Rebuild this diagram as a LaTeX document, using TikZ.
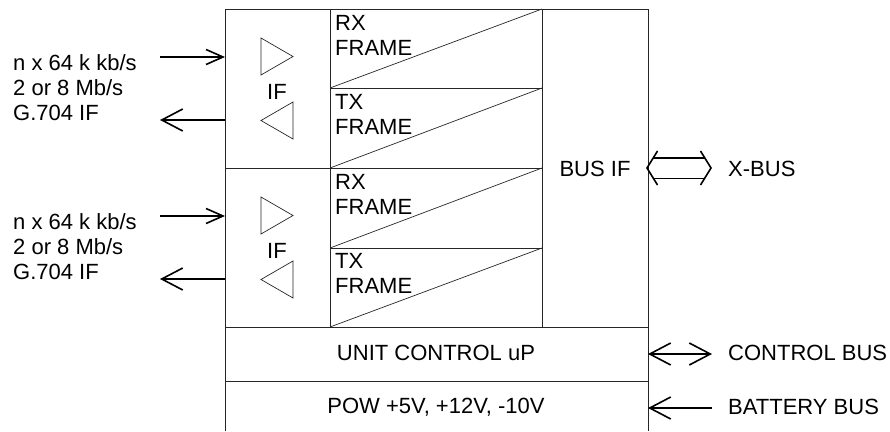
\documentclass[tikz,border=0pt]{standalone}
\usepackage{fontspec}
\setmainfont{Liberation Sans}
\usetikzlibrary{arrows.meta}
\begin{document}
\begin{tikzpicture}[x=1pt,y=-1pt,
  box/.style={draw=black!85, line width=0.9pt},
  tri/.style={draw=black!85, line width=0.7pt},
  lbl/.style={font=\fontsize{22}{25}\selectfont, inner sep=0pt},
  sigin/.style={line width=1.6pt, -{Straight Barb[length=17pt,width=15pt,line width=1.6pt]}},
  sigout/.style={line width=1.6pt, -{Straight Barb[length=21pt,width=22pt,line width=1.6pt]}},
  sigboth/.style={line width=1.6pt, {Straight Barb[length=21pt,width=22pt,line width=1.6pt]}-{Straight Barb[length=21pt,width=22pt,line width=1.6pt]}},
  rail/.style={line width=1.6pt}
]
\useasboundingbox (0,0) rectangle (890,431);

% frame
\draw[box] (225,431) -- (225,9) -- (648,9) -- (648,431);
\draw[box] (225,168) -- (542,168);
\draw[box] (225,327) -- (648,327);
\draw[box] (225,381) -- (648,381);
\draw[box] (330,9) -- (330,327);
\draw[box] (542,9) -- (542,327);
\draw[box] (330,88) -- (542,88);
\draw[box] (330,248) -- (542,248);
% diagonals
\draw[tri] (330,88) -- (542,9);
\draw[tri] (330,168) -- (542,88);
\draw[tri] (330,248) -- (542,168);
\draw[tri] (330,327) -- (542,248);

% amplifier triangles
\foreach \dy in {0,159}{
  \draw[tri] (261,38+\dy) -- (293,56.5+\dy) -- (261,75+\dy) -- cycle;
  \draw[tri] (293,102+\dy) -- (261,120.5+\dy) -- (293,139+\dy) -- cycle;
}

% texts (multi-line nodes: base = last line)
\node[lbl, anchor=base west, align=left] (l1) at (13,120) {n x 64 k kb/s\\2 or 8 Mb/s\\G.704 IF};
\node[lbl, anchor=base west, align=left] (l2) at (13,279) {n x 64 k kb/s\\2 or 8 Mb/s\\G.704 IF};
\node[lbl, anchor=base] (if1) at (277,99) {IF};
\node[lbl, anchor=base] (if2) at (277,258) {IF};
\node[lbl, anchor=base west, align=left] (rx1) at (335,55) {RX\\FRAME};
\node[lbl, anchor=base west, align=left] (tx1) at (335,134) {TX\\FRAME};
\node[lbl, anchor=base west, align=left] (rx2) at (335,214) {RX\\FRAME};
\node[lbl, anchor=base west, align=left] (tx2) at (335,293) {TX\\FRAME};
\node[lbl, anchor=base] (busif) at (595,176) {BUS IF};
\node[lbl, anchor=base west] (xbus) at (728,176) {X-BUS};
\node[lbl, anchor=base] (ucp) at (436,360) {UNIT CONTROL uP};
\node[lbl, anchor=base] (pow) at (436,413) {POW +5V, +12V, -10V};
\node[lbl, anchor=base west] (cbus) at (728,360) {CONTROL BUS};
\node[lbl, anchor=base west] (bbus) at (728,414) {BATTERY BUS};

% connector end points
\coordinate (in1s) at (160,57);   \coordinate (in1e) at (225,57);
\coordinate (out1s) at (225,120); \coordinate (out1e) at (160,120);
\coordinate (in2s) at (160,216);  \coordinate (in2e) at (225,216);
\coordinate (out2s) at (225,279); \coordinate (out2e) at (160,279);
\coordinate (cb1) at (648,354);   \coordinate (cb2) at (712,354);
\coordinate (bb1) at (712,408);   \coordinate (bb2) at (648,408);

\draw[sigin] (in1s) -- (in1e);
\draw[sigout] (out1s) -- (out1e);
\draw[sigin] (in2s) -- (in2e);
\draw[sigout] (out2s) -- (out2e);
\draw[sigboth] (cb1) -- (cb2);
\draw[sigout] (bb1) -- (bb2);

% X-BUS double (hollow) arrow
\coordinate (xl) at (647,168);
\coordinate (xr) at (711,168);
\draw[rail] (653,158) -- (705,158);
\draw[rail] (653,178.5) -- (705,178.5);
\draw[rail] (657.5,151) -- (xl) -- (657.5,185);
\draw[rail] (700.5,151) -- (xr) -- (700.5,185);
\end{tikzpicture}
\end{document}
